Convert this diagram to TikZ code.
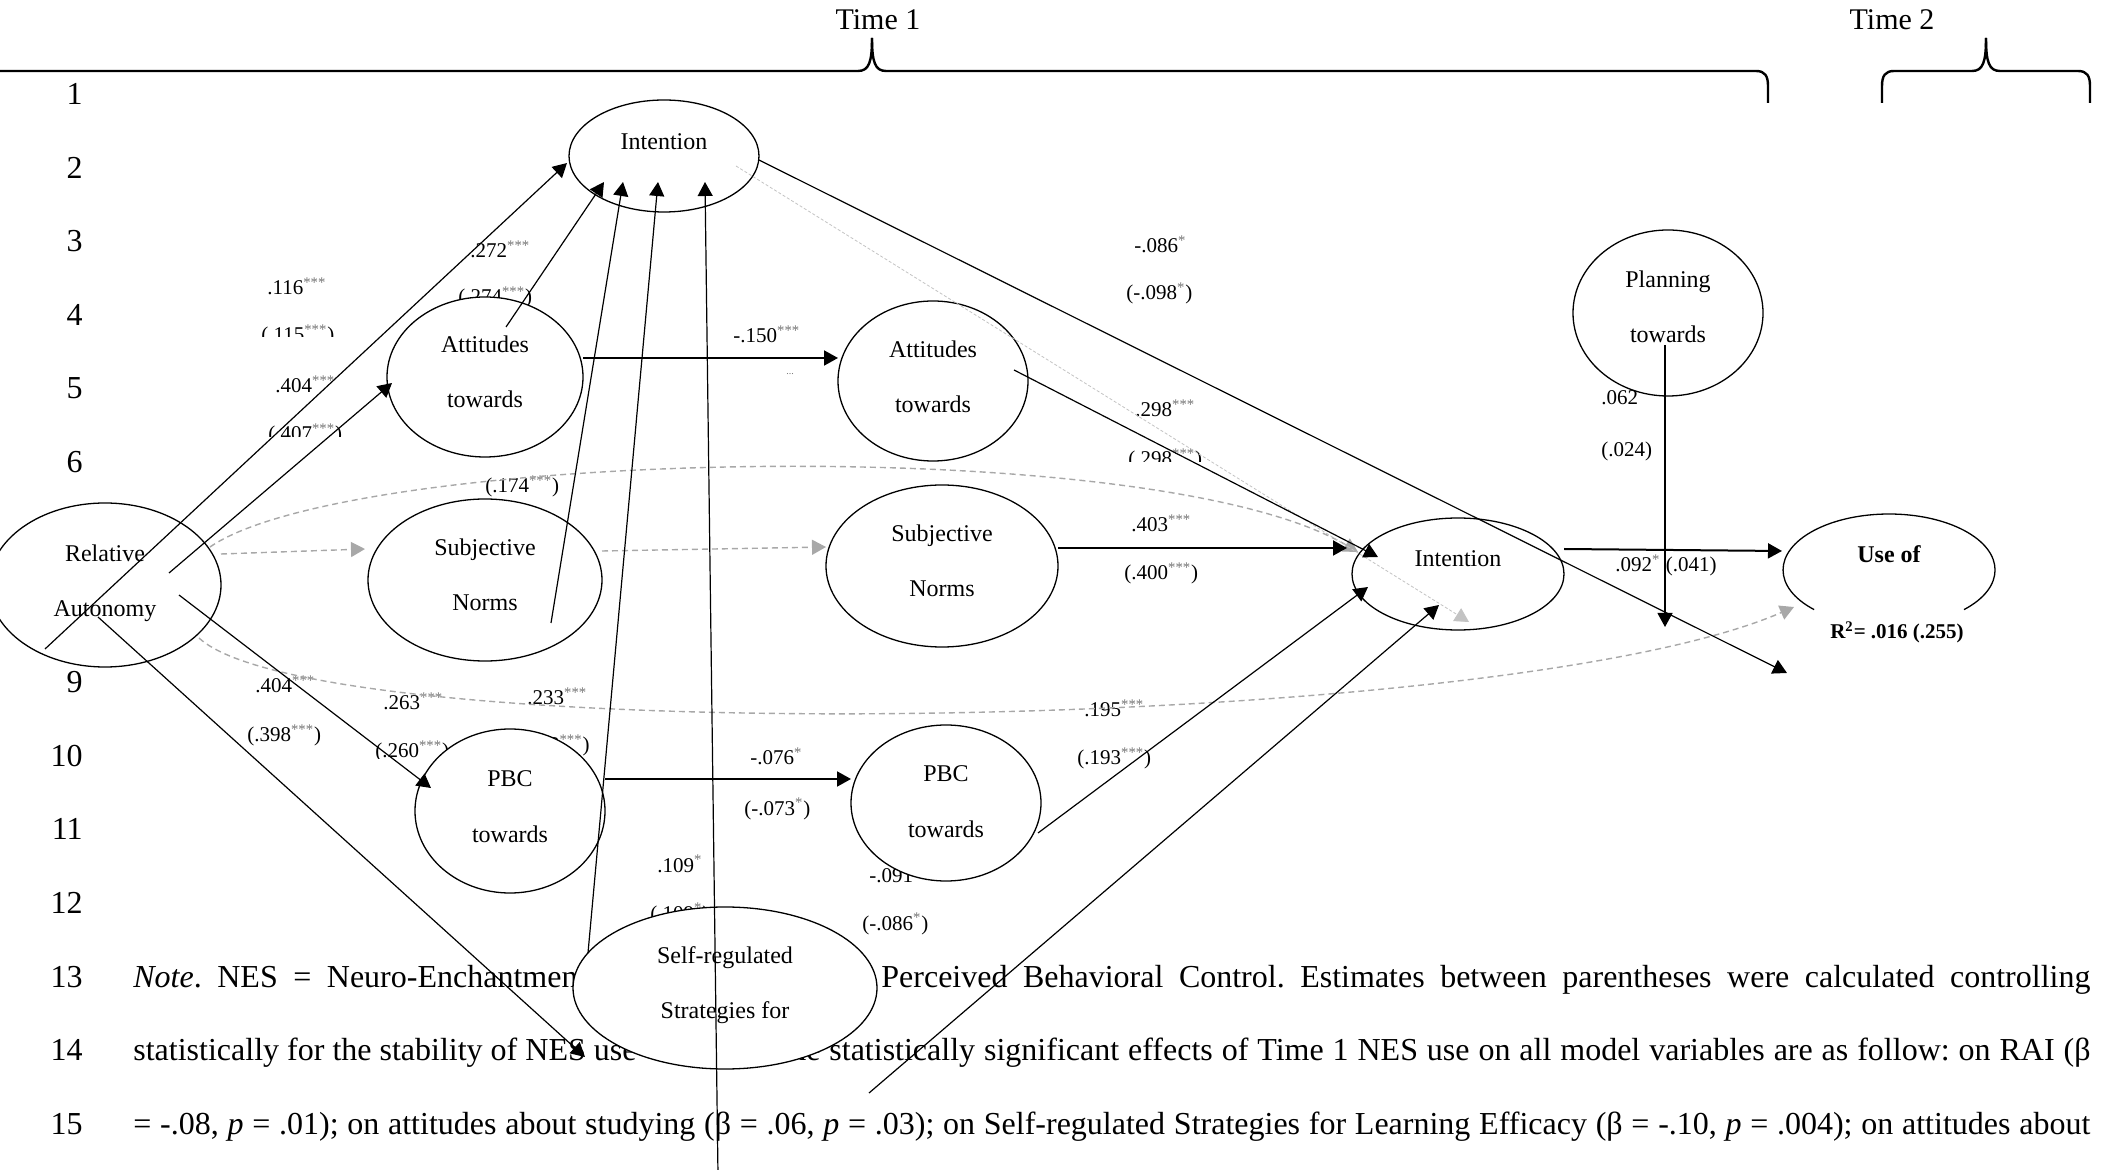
\documentclass[tikz,border=0pt]{standalone}
\usepackage{fontspec}
\setmainfont{Liberation Serif}
\usetikzlibrary{arrows.meta,calc,shapes.geometric}
\frenchspacing
\newcommand{\stars}[1]{\textsuperscript{\color{black!55}#1}}
\definecolor{dashgray}{RGB}{168,168,168}
\definecolor{dotgray}{RGB}{195,195,195}
\tikzset{
  ov/.style={ellipse, draw=black, line width=0.65pt, fill=white, inner sep=0pt},
  nt/.style={anchor=base, inner sep=0pt, font=\fontsize{12}{14}\selectfont},
  lb/.style={anchor=base west, inner sep=0pt, font=\fontsize{10.5}{12}\selectfont},
  lnum/.style={anchor=base east, inner sep=0pt, font=\fontsize{16}{19}\selectfont},
  notel/.style={anchor=base west, inner sep=0pt, font=\fontsize{16}{19}\selectfont},
  headtri/.style={-{Triangle[length=7pt,width=7.5pt]}},
  arr/.style={draw=black, line width=0.6pt, headtri},
  harr/.style={draw=black, line width=1pt, headtri},
  garr/.style={draw=dashgray, line width=0.7pt, dash pattern=on 3pt off 2pt, headtri},
  darr/.style={draw=dotgray, line width=0.4pt, dash pattern=on 1.5pt off 1pt, headtri},
  brace/.style={draw=black, line width=1.2pt},
  timet/.style={anchor=base, inner sep=0pt, font=\fontsize{15}{18}\selectfont},
}
\begin{document}
\begin{tikzpicture}[x=0.5pt,y=-0.5pt]
\useasboundingbox (0,0) rectangle (2111,1170);
\clip (0,0) rectangle (2111,1170);

% --- time braces ---
\node[timet] (time1) at (878,30) {Time 1};
\node[timet] (time2) at (1892,30) {Time 2};
\draw[brace] (-40,71) -- (858,71) .. controls (869,71) and (872,62) .. (872,38);
\draw[brace] (872,38) .. controls (872,62) and (875,71) .. (886,71) -- (1756,71) .. controls (1765,71) and (1768,76) .. (1768,86) -- (1768,103);
\draw[brace] (1882,103) -- (1882,86) .. controls (1882,76) and (1885,71) .. (1894,71) -- (1972,71) .. controls (1983,71) and (1986,62) .. (1986,38);
\draw[brace] (1986,38) .. controls (1986,62) and (1989,71) .. (2000,71) -- (2078,71) .. controls (2087,71) and (2090,76) .. (2090,86) -- (2090,103);

% --- line numbers ---
\node[lnum] (n1) at (83,105) {1};
\node[lnum] (n2) at (83,178.5) {2};
\node[lnum] (n3) at (83,252) {3};
\node[lnum] (n4) at (83,325.5) {4};
\node[lnum] (n5) at (83,399) {5};
\node[lnum] (n6) at (83,472.5) {6};
\node[lnum] (n9) at (83,693) {9};
\node[lnum] (n10) at (83,766.5) {10};
\node[lnum] (n11) at (83,840) {11};
\node[lnum] (n12) at (83,913.5) {12};
\node[lnum] (n13) at (83,987) {13};
\node[lnum] (n14) at (83,1060.5) {14};
\node[lnum] (n15) at (83,1134) {15};

% --- note text ---
\node[notel] (l13a) at (133,987) {\makebox[226.5pt][s]{\textit{Note}. NES = Neuro-Enchantment}};
\node[notel] (l13b) at (881,987) {\makebox[604.5pt][s]{Perceived Behavioral Control. Estimates between parentheses were calculated controlling}};
\node[notel] (l14a) at (133,1060.5) {statistically for the stability of NES use};
\node[notel] (l14b) at (781,1060.5) {\makebox[654.5pt][s]{the statistically significant effects of Time 1 NES use on all model variables are as follow: on RAI (β}};
\node[notel] (l15) at (133,1134) {\makebox[978.5pt][s]{= -.08, \textit{p} = .01); on attitudes about studying (β = .06, \textit{p} = .03); on Self-regulated Strategies for Learning Efficacy (β = -.10, \textit{p} = .004); on attitudes about}};

% --- coefficient labels ---
\node[lb] (c116) at (267,295) {.116\stars{***}};
\begin{scope}\clip (240,300) rectangle (360,337);
\node[lb] (c115) at (261,342) {(.115\stars{***})};
\end{scope}
\node[lb] (c272) at (470,258) {.272\stars{***}};
\node[lb] (c274) at (458,304) {(.274\stars{***})};
\node[lb] (c404a) at (275,393) {.404\stars{***}};
\begin{scope}\clip (240,400) rectangle (360,437);
\node[lb] (c407) at (268,441) {(.407\stars{***})};
\end{scope}
\node[lb] (c174) at (485,493) {(.174\stars{***})};
\node[lb] (c404b) at (255,693) {.404\stars{***}};
\node[lb] (c398) at (247,742) {(.398\stars{***})};
\node[lb] (c263) at (383,710) {.263\stars{***}};
\begin{scope}\clip (360,720) rectangle (470,759);
\node[lb] (c260) at (375,758) {(.260\stars{***})};
\end{scope}
\node[lb] (c233) at (527,705) {.233\stars{***}};
\node[lb,anchor=base east] (c23x) at (590,752) {(.233\stars{***})};
\node[lb] (c150) at (733,343) {-.150\stars{***}};
\node[inner sep=0pt, text=black!55, font=\fontsize{5}{6}\selectfont] (c150b) at (790,374) {...};
\node[lb] (c086) at (1134,253) {-.086\stars{*}};
\node[lb] (c098) at (1126,300) {(-.098\stars{*})};
\node[lb] (c298) at (1135,417) {.298\stars{***}};
\begin{scope}\clip (1100,440) rectangle (1230,462);
\node[lb] (c298b) at (1128,466) {(.298\stars{***})};
\end{scope}
\node[lb] (c403) at (1131,532) {.403\stars{***}};
\node[lb] (c400) at (1124,580) {(.400\stars{***})};
\node[lb] (c062) at (1601,405) {.062};
\node[lb] (c024) at (1601,457) {(.024)};
\node[lb] (c092) at (1615,572) {.092\stars{*} (.041)};
\node[lb] (c195) at (1084,717) {.195\stars{***}};
\node[lb] (c193) at (1077,765) {(.193\stars{***})};
\node[lb] (c076) at (750,765) {-.076\stars{*}};
\node[lb] (c073) at (744,815) {(-.073\stars{*})};
\node[lb] (c109) at (657,872) {.109\stars{*}};
\node[lb] (c109b) at (650,920) {(.109\stars{*})};
\node[lb] (c091) at (869,882) {-.091};
\node[lb] (c086b) at (862,930) {(-.086\stars{*})};

% --- ellipses ---
\node[ov, minimum width=95pt, minimum height=56pt] (int1) at (664,156) {};
\node[ov, minimum width=98pt, minimum height=80pt] (att1) at (485,377) {};
\node[ov, minimum width=95pt, minimum height=80pt] (att2) at (933,381) {};
\node[ov, minimum width=116pt, minimum height=82pt] (rel) at (105,585) {};
\node[ov, minimum width=117pt, minimum height=81pt] (sn1) at (485,580) {};
\node[ov, minimum width=116pt, minimum height=81pt] (sn2) at (942,566) {};
\node[ov, minimum width=95pt, minimum height=82pt] (pbc1) at (510,811) {};
\node[ov, minimum width=95pt, minimum height=78pt] (pbc2) at (946,803) {};
\node[ov, minimum width=152pt, minimum height=81pt] (srl) at (725,988) {};
\node[ov, minimum width=106pt, minimum height=56pt] (int2) at (1458,574) {};
\node[ov, minimum width=95pt, minimum height=83pt] (plan) at (1668,313) {};
\node[ellipse, draw=none, inner sep=0pt, minimum width=106pt, minimum height=56pt] (use) at (1889,570) {};
\draw[line width=0.65pt] ($(use)+(75,39.6)$) arc[start angle=-45, end angle=225, x radius=53pt, y radius=28pt];

% --- node texts ---
\node[nt] (int1t) at (664,150) {Intention};
\node[nt] (att1a) at (485,353) {Attitudes};
\node[nt] (att1b) at (485,408) {towards};
\node[nt] (att2a) at (933,358) {Attitudes};
\node[nt] (att2b) at (933,413) {towards};
\node[nt] (rela) at (105,562) {Relative};
\node[nt] (relb) at (105,617) {Autonomy};
\node[nt] (sn1a) at (485,556) {Subjective};
\node[nt] (sn1b) at (485,611) {Norms};
\node[nt] (sn2a) at (942,542) {Subjective};
\node[nt] (sn2b) at (942,597) {Norms};
\node[nt] (pbc1a) at (510,787) {PBC};
\node[nt] (pbc1b) at (510,842) {towards};
\node[nt] (pbc2a) at (946,782) {PBC};
\node[nt] (pbc2b) at (946,837) {towards};
\node[nt] (srla) at (725,963) {Self-regulated};
\node[nt] (srlb) at (725,1018) {Strategies for};
\node[nt] (int2t) at (1458,567) {Intention};
\node[nt] (plana) at (1668,288) {Planning};
\node[nt] (planb) at (1668,343) {towards};
\node[nt, font=\bfseries\fontsize{12}{14}\selectfont] (uset) at (1889,563) {Use of};
\node[anchor=base, inner sep=0pt, font=\bfseries\fontsize{10.5}{12}\selectfont] (r2) at (1897,639) {R\textsuperscript{2}= .016 (.255)};

% --- free ends ---
\coordinate (nesin) at (718,1175);
\coordinate (pend) at (1787,673);
\coordinate (uend) at (1665,627);

% --- connectors ---
\draw[garr] ($(rel)+(105,-38)$) .. controls ($(rel)+(245,-135)$) and ($(int2)+(-308,-144)$) .. ($(int2)+(-100,-22)$);
\draw[garr] ($(rel)+(94,53)$) .. controls ($(rel)+(215,165)$) and ($(use)+(-389,165)$) .. ($(use)+(-95,37)$);
\draw[garr] ($(rel)+(116,-31)$) -- ($(sn1)+(-120,-31)$);
\draw[garr] ($(sn1)+(117,-29)$) -- ($(sn2)+(-116,-19)$);
\draw[darr] ($(int1)+(72,10)$) -- ($(int2)+(11,48)$);
\draw[arr] ($(rel)+(-60,64)$) -- ($(int1)+(-97,7)$);
\draw[arr] ($(rel)+(64,-12)$) -- ($(att1)+(-93,6)$);
\draw[arr] ($(rel)+(74,10)$) -- ($(pbc1)+(-79,-23)$);
\draw[arr] ($(rel)+(-7,32)$) -- ($(srl)+(-140,69)$);
\draw[arr] ($(att1)+(21,-50)$) -- ($(int1)+(-60,26)$);
\draw[arr] ($(sn1)+(66,43)$) -- ($(int1)+(-41,26)$);
\draw[arr] ($(srl)+(-137,-35)$) -- ($(int1)+(-6,26)$);
\draw[arr] (nesin) -- ($(int1)+(41,26)$);
\draw[harr] ($(att1)+(98,-19)$) -- ($(att2)+(-95,-23)$);
\draw[arr] ($(att2)+(81,-11)$) -- ($(int2)+(-80,-17)$);
\draw[harr] ($(sn2)+(116,-18)$) -- ($(int2)+(-111,-26)$);
\draw[arr] ($(int1)+(95,4)$) -- (pend);
\draw[harr] ($(pbc1)+(95,-32)$) -- ($(pbc2)+(-95,-24)$);
\draw[arr] ($(pbc2)+(92,30)$) -- ($(int2)+(-90,13)$);
\draw[arr] ($(srl)+(144,105)$) -- ($(int2)+(-19,31)$);
\draw[harr] ($(int2)+(106,-25)$) -- ($(use)+(-107,-19)$);
\draw[arr] ($(plan)+(-3,32)$) -- (uend);
\end{tikzpicture}
\end{document}
